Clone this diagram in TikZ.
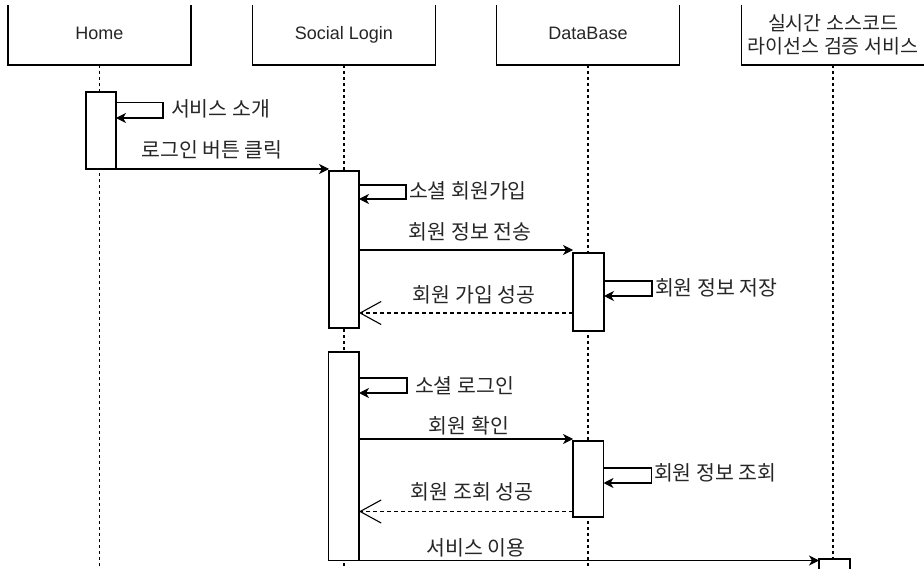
\documentclass[tikz,border=0pt]{standalone}
\usepackage{fontspec}
\setmainfont{Liberation Sans}
\newfontfamily\kr{Noto Sans CJK KR}
\usetikzlibrary{arrows.meta}
\tikzset{
  lbl/.style={font=\kr\fontsize{20.5}{24}\selectfont, inner sep=0pt, outer sep=0pt, text=black!85},
  hdr/.style={inner sep=0pt, outer sep=0pt, minimum width=183pt, minimum height=60pt, font=\fontsize{18}{21}\selectfont, text=black!85, text height=12.9pt, text depth=3pt},
  hdrk/.style={inner sep=0pt, outer sep=0pt, minimum width=183pt, minimum height=60pt, font=\kr\fontsize{19.5}{23}\selectfont, text=black!85, align=center},
  hline/.style={line width=1.1pt},
  life/.style={line width=1.1pt, dash pattern=on 3pt off 3pt},
  act/.style={draw, fill=white, line width=1.1pt, inner sep=0pt, outer sep=0pt, anchor=north west},
  msg/.style={line width=1.1pt, -{Stealth[length=10pt,width=10pt,inset=3pt]}},
  ret/.style={line width=1.1pt, dash pattern=on 4pt off 3pt, -{Straight Barb[length=21pt,width=23pt,line width=1.1pt]}}
}
\begin{document}
\begin{tikzpicture}[x=1pt,y=-1pt]
\useasboundingbox (0,0) rectangle (924,569);
\clip (0,0) rectangle (924,569);
\fill[white] (0,0) rectangle (924,569);
\coordinate (bot) at (0,569);
% headers
\node[hdr] (home) at (99.5,35) {Home};
\node[hdr] (sl) at (344,35) {Social Login};
\node[hdr] (db) at (588,35) {DataBase};
\node[hdrk] (lic) at (833,35) {실시간 소스코드\\라이선스 검증 서비스};
\foreach \n in {home,sl,db,lic}{
  \draw[hline] (\n.north west) |- (\n.south east) -- (\n.north east);
}
% lifelines
\draw[life] (home.south) -- (home.south |- bot);
\draw[life] (sl.south) -- (sl.south |- bot);
\draw[life] (db.south) -- (db.south |- bot);
\draw[life] (lic.south) -- (lic.south |- bot);
% activations
\node[act, minimum width=30pt, minimum height=77pt] (ha) at (86,92) {};
\node[act, minimum width=30pt, minimum height=157pt] (sa1) at (329,171) {};
\node[act, minimum width=31pt, minimum height=78pt] (da1) at (573,253) {};
\node[act, minimum width=30.5pt, minimum height=208.5pt] (sa2) at (328.5,352) {};
\node[act, minimum width=30.5pt, minimum height=76pt] (da2) at (573,441) {};
\node[act, minimum width=31pt, minimum height=40pt] (la) at (819,559) {};
% self loops
\draw[msg] ([yshift=-10.5pt]ha.north east) -- ++(47,0) -- ++(0,15.5) -- ([yshift=-26pt]ha.north east);
\node[lbl, anchor=west] (t1) at (171,109) {서비스 소개};
\draw[msg] ([yshift=-14pt]sa1.north east) -- ++(47,0) -- ++(0,14) -- ([yshift=-28pt]sa1.north east);
\node[lbl, anchor=west] (t3) at (409,191) {소셜 회원가입};
\draw[msg] ([yshift=-28pt]da1.north east) -- ++(48,0) -- ++(0,15) -- ([yshift=-43pt]da1.north east);
\node[lbl, anchor=west] (t5) at (655,288) {회원 정보 저장};
\draw[msg] ([yshift=-26pt]sa2.north east) -- ++(48,0) -- ++(0,15) -- ([yshift=-41pt]sa2.north east);
\node[lbl, anchor=west] (t7) at (415,386) {소셜 로그인};
\draw[msg] ([yshift=-27pt]da2.north east) -- ++(48,0) -- ++(0,15) -- ([yshift=-42pt]da2.north east);
\node[lbl, anchor=west] (t9) at (654,473) {회원 정보 조회};
% messages
\draw[msg] (ha.south east) -- (ha.south east -| sa1.west);
\node[lbl] (t2) at (212,150) {로그인 버튼 클릭};
\draw[msg] ([yshift=-79pt]sa1.north east) -- ([yshift=3pt]da1.north west);
\node[lbl] (t4) at (470,232) {회원 정보 전송};
\draw[ret] ([yshift=-60pt]da1.north west) -- ([yshift=-142pt]sa1.north east);
\node[lbl] (t6) at (474,295) {회원 가입 성공};
\draw[msg] ([yshift=-87pt]sa2.north east) -- ([yshift=2pt]da2.north west);
\node[lbl] (t8) at (469,426) {회원 확인};
\draw[ret] ([yshift=-70.5pt]da2.north west) -- ([yshift=-159.5pt]sa2.north east);
\node[lbl] (t10) at (472,492) {회원 조회 성공};
\draw[msg] (sa2.south east) -- (sa2.south east -| la.west);
\node[lbl] (t11) at (476,548) {서비스 이용};
\end{tikzpicture}
\end{document}
